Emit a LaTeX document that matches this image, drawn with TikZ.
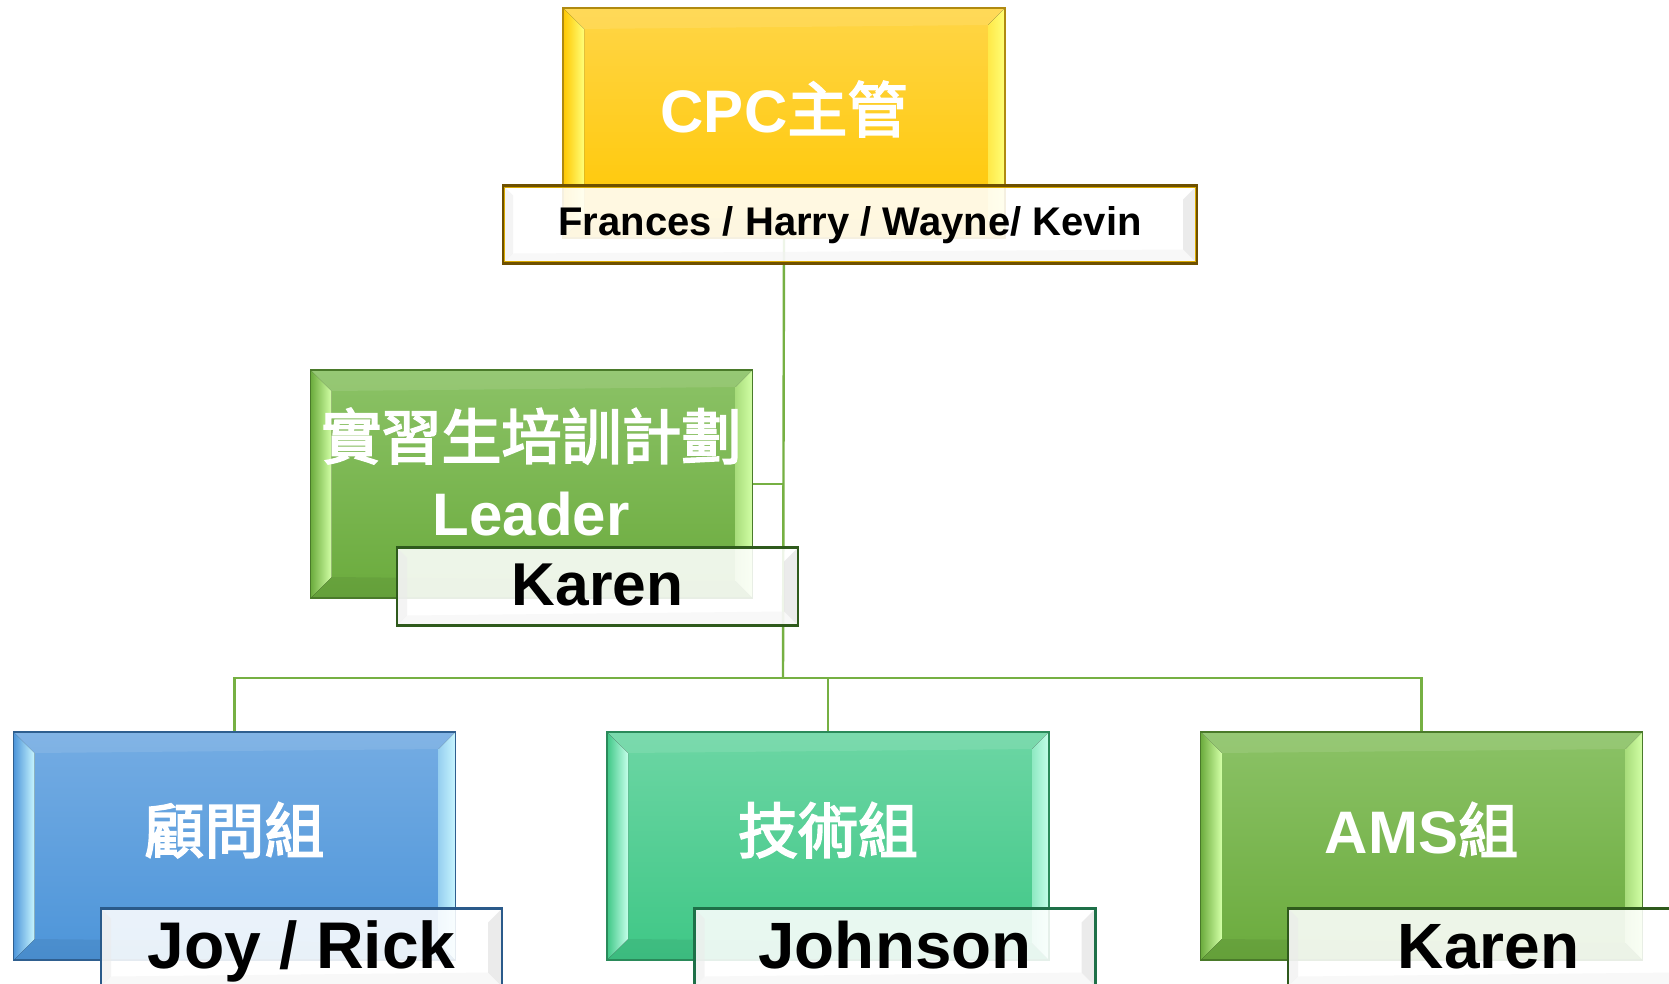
\documentclass[tikz,border=0pt]{standalone}
\usepackage{fontspec}
\setmainfont{Liberation Sans}
\newfontfamily\cjk{Noto Sans CJK TC}[FakeBold=3]
\usetikzlibrary{calc,backgrounds}
\definecolor{goldT}{HTML}{FFD546}
\definecolor{goldB}{HTML}{FFC700}
\definecolor{goldL}{HTML}{FFFF78}
\definecolor{goldD}{HTML}{B08A10}
\definecolor{goldN}{HTML}{6E5000}
\definecolor{grnT}{HTML}{8BC266}
\definecolor{grnB}{HTML}{6BAB3D}
\definecolor{grnL}{HTML}{D2FFA6}
\definecolor{grnD}{HTML}{4A7A2A}
\definecolor{grnN}{HTML}{2F5A1C}
\definecolor{bluT}{HTML}{74ACE3}
\definecolor{bluB}{HTML}{4D95D9}
\definecolor{bluL}{HTML}{C8F6FF}
\definecolor{bluD}{HTML}{2F5F8F}
\definecolor{bluN}{HTML}{2A5A8A}
\definecolor{tealT}{HTML}{6CD6A4}
\definecolor{tealB}{HTML}{3FC786}
\definecolor{tealL}{HTML}{C4FFEA}
\definecolor{tealD}{HTML}{2A8A5A}
\definecolor{tealN}{HTML}{1E7048}
\definecolor{conn}{HTML}{76B043}
\tikzset{
  mainbox/.style args={#1/#2}{rectangle, inner sep=0pt, outer sep=0pt,
     top color=#1, bottom color=#2, minimum width=442pt, minimum height=228pt},
  namebox/.style args={#1/#2}{rectangle, inner sep=0pt, outer sep=0pt,
     fill=white, fill opacity=0.88,
     draw=#1, line width=2.3pt, minimum width=#2, minimum height=78pt},
  connline/.style={draw=conn, line width=2.4pt},
  wtxt/.style={text=white, anchor=base, inner sep=0pt, font=\fontsize{60}{70}\selectfont\bfseries},
  btxt/.style={text=black, anchor=base, inner sep=0pt}
}
% node, base colour, light colour, border colour
\newcommand\bevelbox[4]{%
  \fill[left color=#2, right color=#3] (#1.north west) -- ($(#1.north west)+(21pt,-21pt)$)
     -- ($(#1.south west)+(21pt,21pt)$) -- (#1.south west) -- cycle;
  \fill[left color=#3!60!#2, right color=#3] (#1.north east) -- ($(#1.north east)+(-17pt,-17pt)$)
     -- ($(#1.south east)+(-17pt,17pt)$) -- (#1.south east) -- cycle;
  \fill[white, opacity=0.10] (#1.north west) -- ($(#1.north west)+(21pt,-21pt)$)
     -- ($(#1.north east)+(-17pt,-17pt)$) -- (#1.north east) -- cycle;
  \fill[black, opacity=0.06] (#1.south west) -- ($(#1.south west)+(21pt,21pt)$)
     -- ($(#1.south east)+(-17pt,17pt)$) -- (#1.south east) -- cycle;
  \draw[#4, line width=1.5pt] (#1.north west) rectangle (#1.south east);
}
% node, border colour
\newcommand\namebevel[2]{%
  \fill[black!14, opacity=0.55] (#1.north east) -- ($(#1.north east)+(-14pt,-14pt)$)
     -- ($(#1.south east)+(-14pt,14pt)$) -- (#1.south east) -- cycle;
  \fill[black!8, opacity=0.5] (#1.north west) -- ($(#1.north west)+(10pt,-10pt)$)
     -- ($(#1.south west)+(10pt,10pt)$) -- (#1.south west) -- cycle;
  \fill[black!5, opacity=0.5] (#1.south west) -- ($(#1.south west)+(10pt,10pt)$)
     -- ($(#1.south east)+(-14pt,14pt)$) -- (#1.south east) -- cycle;
  \draw[#2, line width=2.3pt] (#1.north west) rectangle (#1.south east);
}
\begin{document}
\begin{tikzpicture}[x=1pt,y=-1pt]
\useasboundingbox (0,0) rectangle (1669,983);
% main boxes
\path (784,123) node[mainbox=goldT/goldB, minimum height=230pt] (top) {};
\bevelbox{top}{goldB}{goldL}{goldD}
\path (531.5,484) node[mainbox=grnT/grnB] (lead) {};
\bevelbox{lead}{grnB}{grnL}{grnD}
\path (234.5,846) node[mainbox=bluT/bluB] (c1) {};
\bevelbox{c1}{bluB}{bluL}{bluD}
\path (828,846) node[mainbox=tealT/tealB] (c2) {};
\bevelbox{c2}{tealB}{tealL}{tealD}
\path (1421.5,846) node[mainbox=grnT/grnB] (c3) {};
\bevelbox{c3}{grnB}{grnL}{grnD}
% connectors, under the boxes
\coordinate (bus) at (783,678);
\begin{scope}[on background layer]
  \fill[white] (0,0) rectangle (1669,983);
  \draw[connline] (top.south) -- (bus);
  \draw[connline] (lead.east) -- (lead.east -| top.south);
  \draw[connline] (c1.north) |- (bus) -| (c3.north);
  \draw[connline] (c2.north) -- (c2.north |- bus);
\end{scope}
% main texts
\node[wtxt] (t0) at (784,132) {CPC{\cjk\mdseries 主管}};
\node[wtxt] (t1) at (531.5,459) {\cjk\mdseries 實習生培訓計劃};
\node[wtxt] (t1b) at (531,535) {Leader};
\node[wtxt] (t2) at (234.5,853) {\cjk\mdseries 顧問組};
\node[wtxt] (t3) at (828,853) {\cjk\mdseries 技術組};
\node[wtxt] (t4) at (1421.5,853) {AMS{\cjk\mdseries 組}};
% name boxes
\path (850,224.5) node[namebox=goldN/694pt] (n0) {};
\namebevel{n0}{goldN}
\draw[goldB!85!black, line width=1.1pt] ($(n0.north west)+(1.8pt,-1.8pt)$) rectangle ($(n0.south east)+(-1.8pt,1.8pt)$);
\path (597.5,586.5) node[namebox=grnN/401pt] (n1) {};
\namebevel{n1}{grnN}
\path (301.5,947.5) node[namebox=bluN/401pt] (n2) {};
\namebevel{n2}{bluN}
\path (895,947.5) node[namebox=tealN/401pt] (n3) {};
\namebevel{n3}{tealN}
\path (1488.5,947.5) node[namebox=grnN/401pt] (n4) {};
\namebevel{n4}{grnN}
% name texts
\node[btxt, font=\fontsize{40}{46}\selectfont\bfseries] (m0) at (850,235) {Frances / Harry / Wayne/ Kevin};
\node[btxt, font=\fontsize{60.5}{70}\selectfont\bfseries] (m1) at (597.5,605) {Karen};
\node[btxt, font=\fontsize{66}{75}\selectfont\bfseries] (m2) at (301.5,968) {Joy / Rick};
\node[btxt, font=\fontsize{65.5}{75}\selectfont\bfseries] (m3) at (895,968) {Johnson};
\node[btxt, font=\fontsize{64}{75}\selectfont\bfseries] (m4) at (1488.5,968) {Karen};
\end{tikzpicture}
\end{document}
